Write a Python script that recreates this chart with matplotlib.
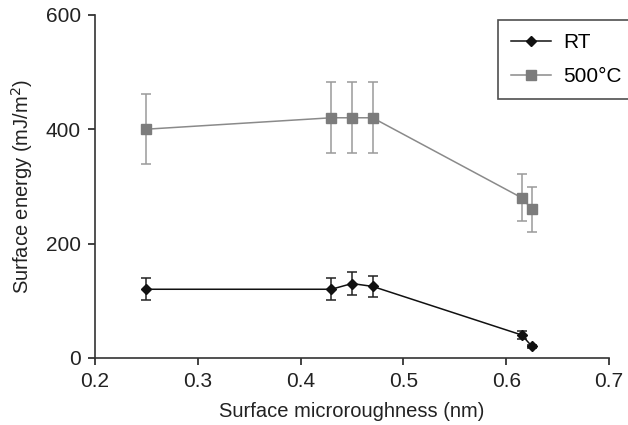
import numpy as np
from matplotlib import pyplot as plt

plt.rcParams['font.family'] = ['Liberation Sans', 'DejaVu Sans']

x_rt = [0.25, 0.43, 0.45, 0.47, 0.615, 0.625]
y_rt = [120, 120, 130, 125, 40, 20]
err_rt = [19, 19, 20, 19, 7, 3]

x_500 = [0.25, 0.43, 0.45, 0.47, 0.615, 0.625]
y_500 = [400, 420, 420, 420, 280, 260]
err_500 = [61, 62, 62, 62, 41, 39]

fig = plt.figure(figsize=(6.28, 4.25), dpi=100)
ax = fig.add_axes([0.151, 0.158, 0.819, 0.807])

c_rt = ax.errorbar(x_rt, y_rt, yerr=err_rt, color='#111111', ecolor='#222222',
                   marker='D', markersize=5.5, linewidth=1.1, elinewidth=1.1,
                   capsize=3.7, capthick=1.1, zorder=3)
c_500 = ax.errorbar(x_500, y_500, yerr=err_500, color='#8a8a8a', ecolor='#9a9a9a',
                    mfc='#7c7c7c', mec='#7c7c7c', marker='s', markersize=6.5,
                    linewidth=1.1, elinewidth=1.1, capsize=3.7, capthick=1.1,
                    zorder=2)

ax.set_xlim(0.2, 0.7)
ax.set_ylim(0, 600)
ax.set_xticks([0.2, 0.3, 0.4, 0.5, 0.6, 0.7])
ax.set_yticks([0, 200, 400, 600])
ax.spines['top'].set_visible(False)
ax.spines['right'].set_visible(False)
for s in ['left', 'bottom']:
    ax.spines[s].set_color('#333333')
    ax.spines[s].set_linewidth(1.2)
ax.tick_params(labelsize=15, colors='#222222', length=5, width=1.2, pad=5)

ax.set_xlabel('Surface microroughness (nm)', fontsize=14.5, color='#222222', labelpad=8)
ax.set_ylabel('Surface energy (mJ/m$^2$)', fontsize=14.5, color='#222222', labelpad=8)

# legend box runs off the right edge like the original
leg = fig.legend([c_rt.lines[0], c_500.lines[0]], ['RT', '500°C'],
                 loc='upper left', bbox_to_anchor=(498 / 628, 1 - 20 / 425),
                 fontsize=15, frameon=True, fancybox=False, edgecolor='#222222',
                 handlelength=1.9, labelspacing=0.72, borderpad=0.62,
                 handletextpad=0.6, borderaxespad=0)
leg.get_frame().set_linewidth(1.2)
leg.get_frame().set_width(leg.get_frame().get_width() + 20)

plt.savefig('out.png', dpi=100)
